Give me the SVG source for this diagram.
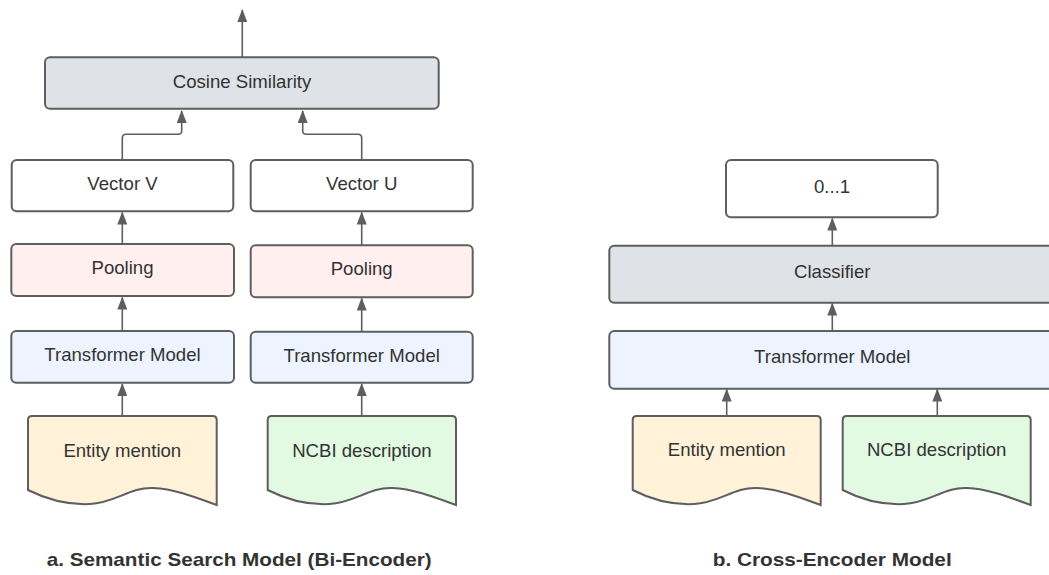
<svg xmlns="http://www.w3.org/2000/svg" width="1049" height="575" viewBox="0 0 1049 575">
<style>
.box{stroke:#5e5e5e;stroke-width:2}
.gray{fill:#dfe2e7}.white{fill:#ffffff}.pink{fill:#ffefef}.blue{fill:#edf4ff}.yellow{fill:#fff2d9}.green{fill:#e2f9e2}
.t{font-family:"Liberation Sans",Arial,sans-serif;font-size:18.6px;fill:#333333;text-anchor:middle}
.cap{font-family:"Liberation Sans",Arial,sans-serif;font-size:19px;font-weight:bold;fill:#333333}
.c{fill:none;stroke:#5e5e5e;stroke-width:1.6}
</style>
<defs>
<marker id="ah" viewBox="0 0 13 10" refX="12" refY="5" markerWidth="13" markerHeight="10" markerUnits="userSpaceOnUse" orient="auto">
<path d="M0,0 L13,5 L0,10 Z" fill="#5e5e5e"/>
</marker>
</defs>
<rect width="1049" height="575" fill="#ffffff"/>
<g id="connectors">
<path class="c" d="M242.3,57 V10" marker-end="url(#ah)"/>
<path class="c" d="M122.3,160 V138 Q122.3,134.3 126,134.3 H178 Q181.7,134.3 181.7,131 V111" marker-end="url(#ah)"/>
<path class="c" d="M361.7,160 V138 Q361.7,134.3 358,134.3 H306.4 Q302.7,134.3 302.7,131 V111" marker-end="url(#ah)"/>
<path class="c" d="M122.3,244 V212.5" marker-end="url(#ah)"/>
<path class="c" d="M361.7,245 V212.5" marker-end="url(#ah)"/>
<path class="c" d="M122.3,331 V297.5" marker-end="url(#ah)"/>
<path class="c" d="M361.7,331.5 V298.5" marker-end="url(#ah)"/>
<path class="c" d="M122.3,416 V384" marker-end="url(#ah)"/>
<path class="c" d="M361.7,416 V384" marker-end="url(#ah)"/>
<path class="c" d="M832.3,245.7 V218.5" marker-end="url(#ah)"/>
<path class="c" d="M832.3,331 V303.5" marker-end="url(#ah)"/>
<path class="c" d="M726.7,416 V389.5" marker-end="url(#ah)"/>
<path class="c" d="M937.3,416 V389.5" marker-end="url(#ah)"/>
</g>
<g id="cosine">
<rect class="box gray" x="45" y="57.3" width="393.7" height="51.4" rx="5"/>
<text class="t" x="242" y="87.5">Cosine Similarity</text>
</g>
<g id="vectorV">
<rect class="box white" x="11.7" y="160" width="221.6" height="51.3" rx="5"/>
<text class="t" x="122.5" y="190">Vector V</text>
</g>
<g id="vectorU">
<rect class="box white" x="250.7" y="160" width="222" height="51.3" rx="5"/>
<text class="t" x="361.7" y="190">Vector U</text>
</g>
<g id="poolingL">
<rect class="box pink" x="11.3" y="244" width="222.7" height="52" rx="5"/>
<text class="t" x="122.5" y="274">Pooling</text>
</g>
<g id="poolingR">
<rect class="box pink" x="250.7" y="245.3" width="222" height="52" rx="5"/>
<text class="t" x="361.7" y="275.3">Pooling</text>
</g>
<g id="transformerL">
<rect class="box blue" x="11.3" y="331" width="222.7" height="51.7" rx="5"/>
<text class="t" x="122.5" y="361">Transformer Model</text>
</g>
<g id="transformerR">
<rect class="box blue" x="250.7" y="331.7" width="222" height="51" rx="5"/>
<text class="t" x="361.7" y="361.5">Transformer Model</text>
</g>
<g id="docEntityL">
<path class="box yellow" d="M28,490 V420 Q28,416 32,416 H212.7 Q216.7,416 216.7,420 V505 C195,497 175,489 153,488 C130,487 115,503 90,504 C70,505 48,500 28,490 Z"/>
<text class="t" x="122.3" y="456.7">Entity mention</text>
</g>
<g id="docNcbiL">
<path class="box green" d="M267.7,490 V420 Q267.7,416 271.7,416 H452 Q456,416 456,420 V505 C434.3,497 414.3,489 392.3,488 C369.3,487 354.3,503 329.3,504 C309.3,505 287.3,500 267.7,490 Z"/>
<text class="t" x="361.9" y="456.7">NCBI description</text>
</g>
<g id="output01">
<rect class="box white" x="726" y="160" width="211.7" height="57.3" rx="5"/>
<text class="t" x="832" y="192.7">0...1</text>
</g>
<g id="classifier">
<rect class="box gray" x="609.3" y="245.7" width="446" height="57" rx="5"/>
<text class="t" x="832.3" y="278.3">Classifier</text>
</g>
<g id="transformerB">
<rect class="box blue" x="609.3" y="331" width="446" height="57.7" rx="5"/>
<text class="t" x="832.3" y="363.3">Transformer Model</text>
</g>
<g id="docEntityR">
<path class="box yellow" d="M632.7,490 V420 Q632.7,416 636.7,416 H816.7 Q820.7,416 820.7,420 V505 C799,497 779,489 757,488 C734,487 719,503 694,504 C674,505 652,500 632.7,490 Z"/>
<text class="t" x="726.7" y="456">Entity mention</text>
</g>
<g id="docNcbiR">
<path class="box green" d="M842.7,490 V420 Q842.7,416 846.7,416 H1026.7 Q1030.7,416 1030.7,420 V505 C1009,497 989,489 967,488 C944,487 929,503 904,504 C884,505 862,500 842.7,490 Z"/>
<text class="t" x="936.7" y="456">NCBI description</text>
</g>
<g id="captions">
<text class="cap" x="46.7" y="565.7" textLength="385" lengthAdjust="spacingAndGlyphs">a. Semantic Search Model (Bi-Encoder)</text>
<text class="cap" x="712.7" y="565.7" textLength="239" lengthAdjust="spacingAndGlyphs">b. Cross-Encoder Model</text>
</g>
</svg>
